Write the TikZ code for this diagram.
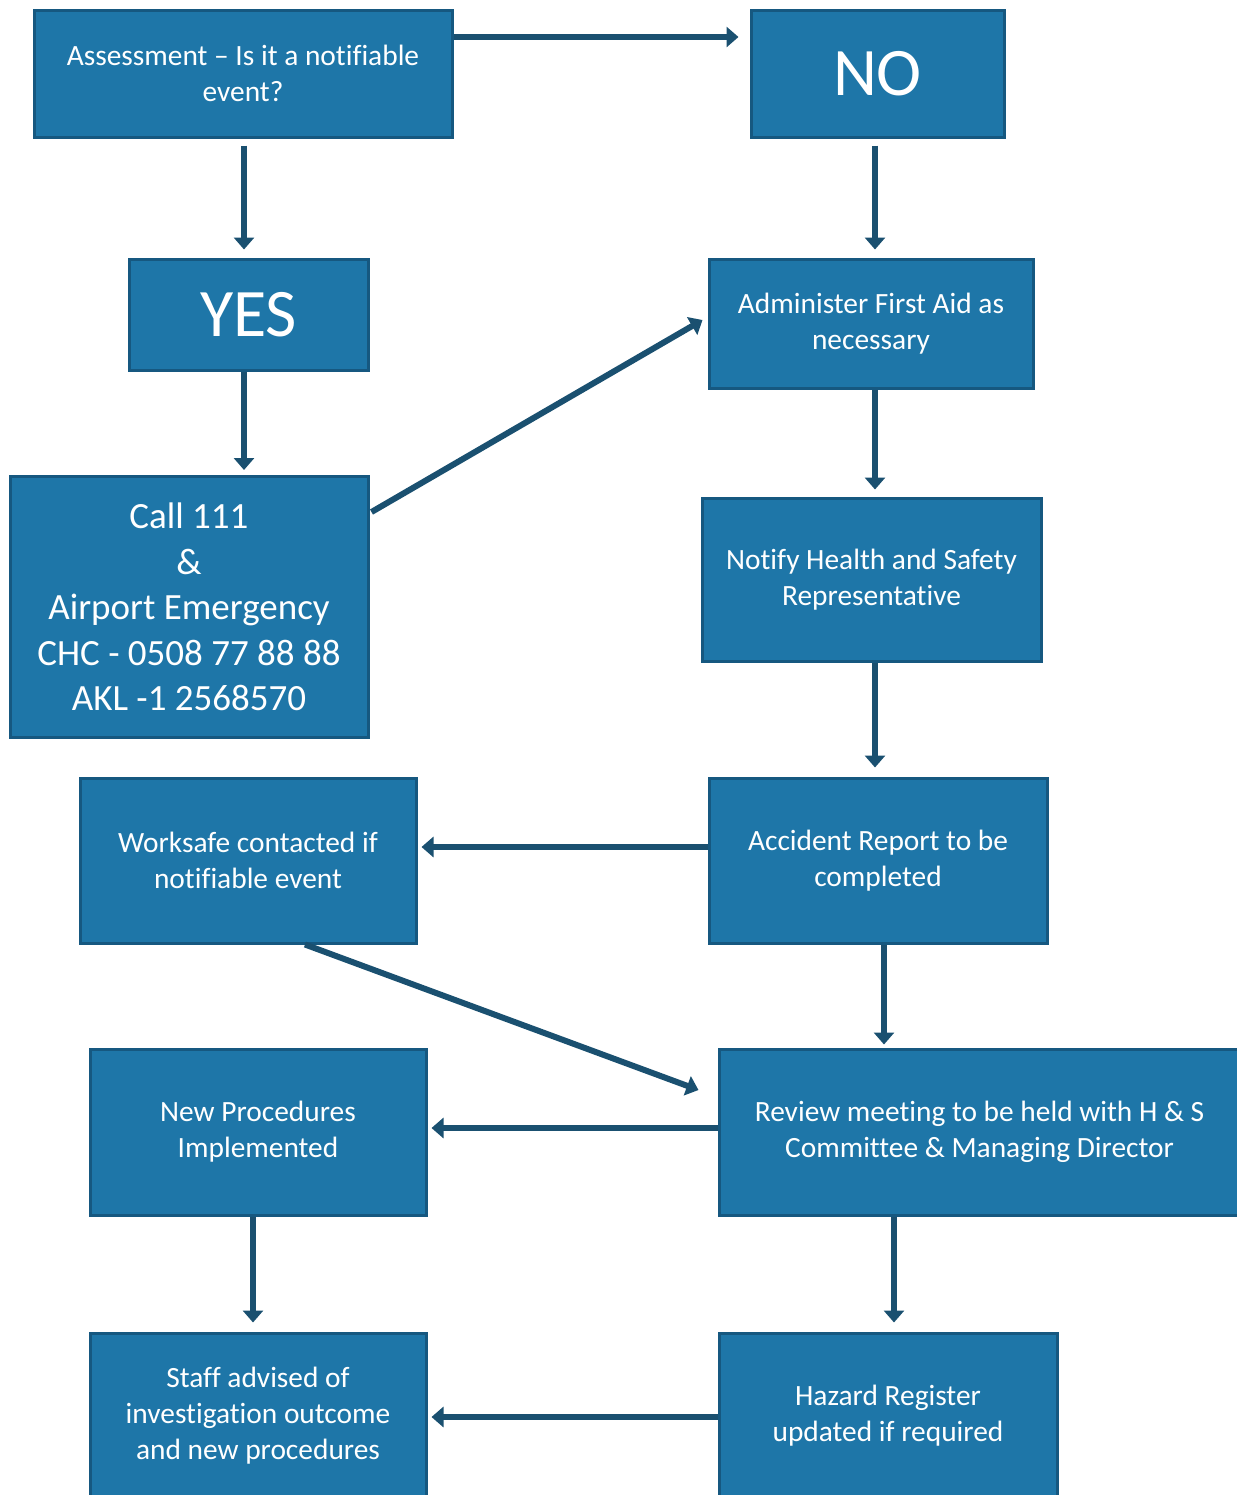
\documentclass[tikz,border=0pt]{standalone}
\usepackage{fontspec}
\setmainfont{Carlito}[Ligatures=NoCommon]
\usetikzlibrary{arrows.meta,calc}
\definecolor{boxfill}{RGB}{30,118,168}
\definecolor{boxline}{RGB}{22,88,128}
\definecolor{arr}{RGB}{26,80,112}
\tikzset{
 box/.style={draw=boxline, line width=1.5pt, fill=boxfill, text=white, align=center, inner sep=0pt, font=\fontsize{14.7}{18}\selectfont},
 big/.style={font=\fontsize{34}{40}\selectfont},
 mid/.style={font=\fontsize{18.5}{22.75}\selectfont},
 flow/.style={draw=arr, line width=3pt, -{Triangle[width=10pt,length=6pt]}},
}
\begin{document}
\begin{tikzpicture}[x=0.5pt,y=-0.5pt]
\useasboundingbox (0,0) rectangle (1237,1495);
\clip (0,0) rectangle (1237,1495);
\node[box, minimum width=209pt, minimum height=63.5pt] (assess) at (243,73.5) {Assessment -- Is it a notifiable\\event?};
\node[box, big, minimum width=126.5pt, minimum height=63.5pt] (no) at (877.5,73.5) {NO};
\node[box, big, minimum width=119.5pt, minimum height=55.5pt] (yes) at (248.5,314.5) {YES};
\node[box, mid, minimum width=179pt, minimum height=130.5pt] (call) at (189,607) {Call 111\\\&\\Airport Emergency\\CHC - 0508 77 88 88\\AKL -1 2568570};
\node[box, minimum width=162pt, minimum height=64.5pt] (aid) at (871,323.5) {Administer First Aid as\\necessary};
\node[box, minimum width=169.5pt, minimum height=81.5pt] (notify) at (871.5,579.5) {Notify Health and Safety\\Representative};
\node[box, minimum width=169pt, minimum height=82.5pt] (accident) at (878,860.5) {Accident Report to be\\completed};
\node[box, minimum width=168pt, minimum height=82.5pt] (worksafe) at (248,860.5) {Worksafe contacted if\\notifiable event};
\node[box, minimum width=260.5pt, minimum height=83pt] (review) at (979.5,1132) {Review meeting to be held with H \& S\\Committee \& Managing Director};
\node[box, minimum width=168pt, minimum height=83pt] (newproc) at (258,1132) {New Procedures\\Implemented};
\node[box, minimum width=168pt, minimum height=83pt] (staff) at (258,1416) {Staff advised of\\investigation outcome\\and new procedures};
\node[box, minimum width=169pt, minimum height=83pt] (hazard) at (888,1416) {Hazard Register\\updated if required};

\draw[flow] ($(assess.east)+(0,-36.5)$) -- ($(no.west)+(-11,-36.5)$);
\draw[flow] ($(assess.south)+(1,7)$) -- ($(yes.north)+(-4.5,-8)$);
\draw[flow] ($(no.south)+(-2.5,7)$) -- ($(aid.north)+(4,-8)$);
\draw[flow] ($(yes.south)+(-4.5,0)$) -- ($(call.north)+(55,-5)$);
\draw[flow] ($(call.north east)+(2,37)$) -- ($(aid.west)+(-5,-3.5)$);
\draw[flow] ($(aid.south)+(4,0)$) -- ($(notify.north)+(3.5,-7)$);
\draw[flow] ($(notify.south)+(3.5,0)$) -- ($(accident.north)+(-3,-9)$);
\draw[flow] ($(accident.west)+(0,-13.5)$) -- ($(worksafe.east)+(4,-13.5)$);
\draw[flow] ($(worksafe.south)+(57,0)$) -- ($(review.west)+(-19,-42)$);
\draw[flow] ($(accident.south)+(6,0)$) -- ($(review.north)+(-95.5,-3)$);
\draw[flow] ($(review.west)+(0,-4)$) -- ($(newproc.east)+(4,-4)$);
\draw[flow] ($(newproc.south)+(-5,0)$) -- ($(staff.north)+(-5,-9)$);
\draw[flow] ($(review.south)+(-85.5,0)$) -- ($(hazard.north)+(6,-9)$);
\draw[flow] ($(hazard.west)+(0,1)$) -- ($(staff.east)+(4,1)$);
\end{tikzpicture}
\end{document}
